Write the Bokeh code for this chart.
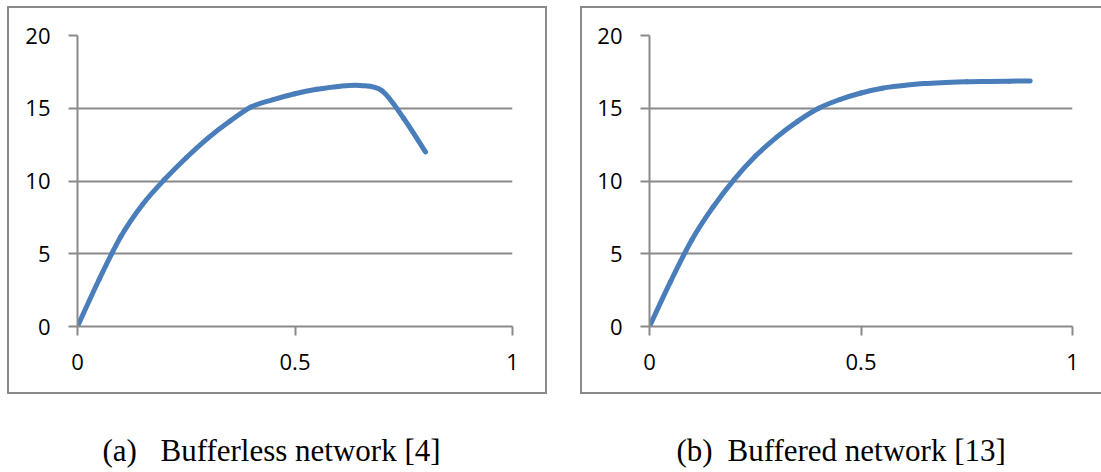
from bokeh.plotting import figure
from bokeh.layouts import column, row
from bokeh.models import Range1d, FixedTicker, Label, Spacer
from bokeh.embed import file_html
from bokeh.resources import INLINE

# ---- data ----
load_a = [0, 0.05, 0.1, 0.15, 0.2, 0.25, 0.3, 0.35, 0.4, 0.45, 0.5, 0.55, 0.6, 0.65, 0.7, 0.75, 0.8]
thr_a = [0, 3.25, 6.2, 8.4, 10.1, 11.6, 12.95, 14.1, 15.1, 15.6, 16.0, 16.3, 16.5, 16.56, 16.2, 14.3, 12.0]

load_b = [0, 0.05, 0.1, 0.15, 0.2, 0.25, 0.3, 0.35, 0.4, 0.45, 0.5, 0.55, 0.6, 0.65, 0.7, 0.75, 0.8, 0.85, 0.9]
thr_b = [0, 3.1, 5.95, 8.2, 10.1, 11.7, 13.0, 14.1, 15.0, 15.6, 16.05, 16.38, 16.56, 16.7, 16.77, 16.82, 16.84, 16.86, 16.88]

x_ticks = [0, 0.5, 1]
x_tick_labels = ["0", "0.5", "1"]
y_ticks = [0, 5, 10, 15, 20]

caption_tags = ["(a)", "(b)"]
caption_titles = ["Bufferless network [4]", "Buffered network [13]"]

GRAY = "#8a8a8a"
BLUE = "#4a7ebb"


def smooth_segments(xs, ys):
    # smoothed-line rendering (Catmull-Rom style control points, like a spreadsheet "smoothed line")
    n = len(xs)
    x0, y0, x1, y1, cx0, cy0, cx1, cy1 = ([] for _ in range(8))
    for i in range(n - 1):
        ip = max(i - 1, 0)
        inx = min(i + 2, n - 1)
        x0.append(xs[i]); y0.append(ys[i])
        x1.append(xs[i + 1]); y1.append(ys[i + 1])
        cx0.append(xs[i] + (xs[i + 1] - xs[ip]) / 6.0)
        cy0.append(ys[i] + (ys[i + 1] - ys[ip]) / 6.0)
        cx1.append(xs[i + 1] - (xs[inx] - xs[i]) / 6.0)
        cy1.append(ys[i + 1] - (ys[inx] - ys[i]) / 6.0)
    return dict(x0=x0, y0=y0, x1=x1, y1=y1, cx0=cx0, cy0=cy0, cx1=cx1, cy1=cy1)


def make_panel(xs, ys, width, border_left, border_right, box_css):
    p = figure(width=width, height=388, x_range=Range1d(0, 1), y_range=Range1d(0, 20),
               output_backend="svg", toolbar_location=None,
               min_border_left=border_left, min_border_right=border_right,
               min_border_top=29, min_border_bottom=68)
    p.outline_line_color = None
    p.border_fill_color = None
    p.background_fill_color = None
    p.styles = {"box-shadow": box_css}
    p.xgrid.grid_line_color = None
    p.ygrid.grid_line_color = GRAY
    p.ygrid.grid_line_width = 2
    p.xaxis.ticker = FixedTicker(ticks=x_ticks)
    p.xaxis.major_label_overrides = {t: l for t, l in zip(x_ticks, x_tick_labels)}
    p.yaxis.ticker = FixedTicker(ticks=y_ticks)
    for ax in (p.xaxis[0], p.yaxis[0]):
        ax.axis_line_color = GRAY
        ax.axis_line_width = 2
        ax.major_tick_line_color = GRAY
        ax.major_tick_line_width = 2
        ax.major_tick_out = 9
        ax.major_tick_in = 0
        ax.minor_tick_line_color = None
        ax.major_label_text_font = "Open Sans"
        ax.major_label_text_font_size = "22px"
        ax.major_label_text_color = "black"
    p.yaxis.major_label_standoff = 18
    p.xaxis.major_label_standoff = 18
    seg = smooth_segments(xs, ys)
    p.bezier(x0="x0", y0="y0", x1="x1", y1="y1", cx0="cx0", cy0="cy0", cx1="cx1", cy1="cy1",
             source=seg, line_color=BLUE, line_width=5, line_cap="round")
    return p


p1 = make_panel(load_a, thr_a, 540, 70, 35, "inset 0 0 0 2px #8a8a8a")
p2 = make_panel(load_b, thr_b, 521, 69, 29,
                "inset 2px 2px 0 0 #8a8a8a, inset 0 -2px 0 0 #8a8a8a")

cap = figure(width=1101, height=78, x_range=Range1d(0, 1), y_range=Range1d(0, 1),
             output_backend="svg", toolbar_location=None, min_border=0,
             x_axis_location=None, y_axis_location=None)
cap.grid.visible = False
cap.outline_line_color = None
cap.border_fill_color = None
cap.background_fill_color = None
tag_x = [102, 676]
title_x = [160, 727]
for tx, tt, tag, title in zip(tag_x, title_x, caption_tags, caption_titles):
    for xx, txt in ((tx, tag), (tt, title)):
        cap.add_layout(Label(x=xx, y=22, x_units="screen", y_units="screen", text=txt,
                             text_font="Liberation Serif", text_font_size="31px",
                             text_color="black", text_baseline="alphabetic"))

layout = column(Spacer(height=6),
                row(Spacer(width=7), p1, Spacer(width=33), p2),
                cap)
open("out.html", "w").write(file_html(layout, INLINE))
